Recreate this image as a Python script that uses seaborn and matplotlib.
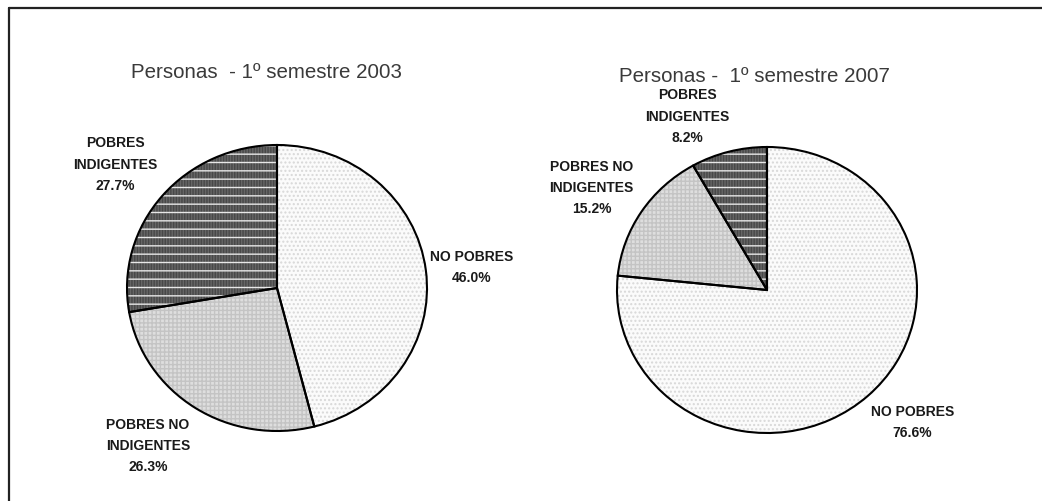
import matplotlib
matplotlib.use("Agg")
import matplotlib.pyplot as plt
from matplotlib.lines import Line2D
import seaborn as sns

sns.set_style("white")
plt.rcParams['font.family'] = ['Liberation Sans', 'DejaVu Sans']
plt.rcParams['hatch.linewidth'] = 1.0

# data
categorias = ["NO POBRES", "POBRES NO\nINDIGENTES", "POBRES\nINDIGENTES"]
titulos = ["Personas  - 1º semestre 2003", "Personas -  1º semestre 2007"]
valores_2003 = [46.0, 26.3, 27.7]
valores_2007 = [76.6, 15.2, 8.2]

# styles
fondos = ["#fbfbfb", "#dedede", "#666666"]
tramas = ["....", "++++", "||||||"]
colores_trama = ["#d8d8d8", "#c4c4c4", "#484848"]

# label positions (pie units, radius = 1)
pos_2003 = [(1.30, 0.15), (-0.86, -1.10), (-1.08, 0.87)]
pos_2007 = [(0.97, -0.92), (-1.17, 0.72), (-0.53, 1.22)]

W, H = 1042, 502
fig = plt.figure(figsize=(W / 100, H / 100), dpi=100)
fig.patch.set_facecolor("white")


def draw_pie(ax, valores, posiciones):
    base, _ = ax.pie(valores, startangle=90, counterclock=False,
                     wedgeprops=dict(linewidth=0))
    for w, fc, h, hc in zip(base, fondos, tramas, colores_trama):
        w.set_facecolor(fc)
        w.set_hatch(h)
        w.set_edgecolor(hc)
        w.set_linewidth(0)
    # white horizontal stripes on the dark slice
    over, _ = ax.pie(valores, startangle=90, counterclock=False,
                     wedgeprops=dict(fill=False, linewidth=0))
    for i, w in enumerate(over):
        if i == 2:
            w.set_hatch("--")
            w.set_edgecolor("#e8e8e8")
        else:
            w.set_visible(False)
    ax.pie(valores, startangle=90, counterclock=False,
           wedgeprops=dict(fill=False, edgecolor="black", linewidth=1.5))
    for cat, v, (x, y) in zip(categorias, valores, posiciones):
        ax.text(x, y, f"{cat}\n{v:.1f}%", ha="center", va="center",
                fontsize=10, fontweight="bold", color="#1a1a1a",
                linespacing=1.65)
    ax.set_aspect("auto")
    ax.set_xlim(-1.5, 1.5)
    ax.set_ylim(-1.4, 1.5)
    ax.axis("off")


# pie axes placed in pixels: center, rx=150, ry=143
def axes_at(cx, cy):
    left = (cx - 1.5 * 150) / W
    bottom = (H - (cy + 1.4 * 143)) / H
    return fig.add_axes([left, bottom, 3.0 * 150 / W, 2.9 * 143 / H])


ax1 = axes_at(277, 289)
ax2 = axes_at(767, 291)
draw_pie(ax1, valores_2003, pos_2003)
draw_pie(ax2, valores_2007, pos_2007)

fig.text(266 / W, 1 - 73 / H, titulos[0], ha="center", va="center",
         fontsize=14.8, color="#3a3a3a")
fig.text(754 / W, 1 - 77 / H, titulos[1], ha="center", va="center",
         fontsize=14.8, color="#3a3a3a")

# frame lines (top and left only)
fig.add_artist(Line2D([8.5 / W, 8.5 / W], [0, 1 - 9 / H], color="#222222",
                      linewidth=1.6, transform=fig.transFigure))
fig.add_artist(Line2D([8.5 / W, 1], [1 - 9 / H, 1 - 9 / H], color="#222222",
                      linewidth=1.6, transform=fig.transFigure))

fig.savefig("out.png", dpi=100, facecolor="white")
